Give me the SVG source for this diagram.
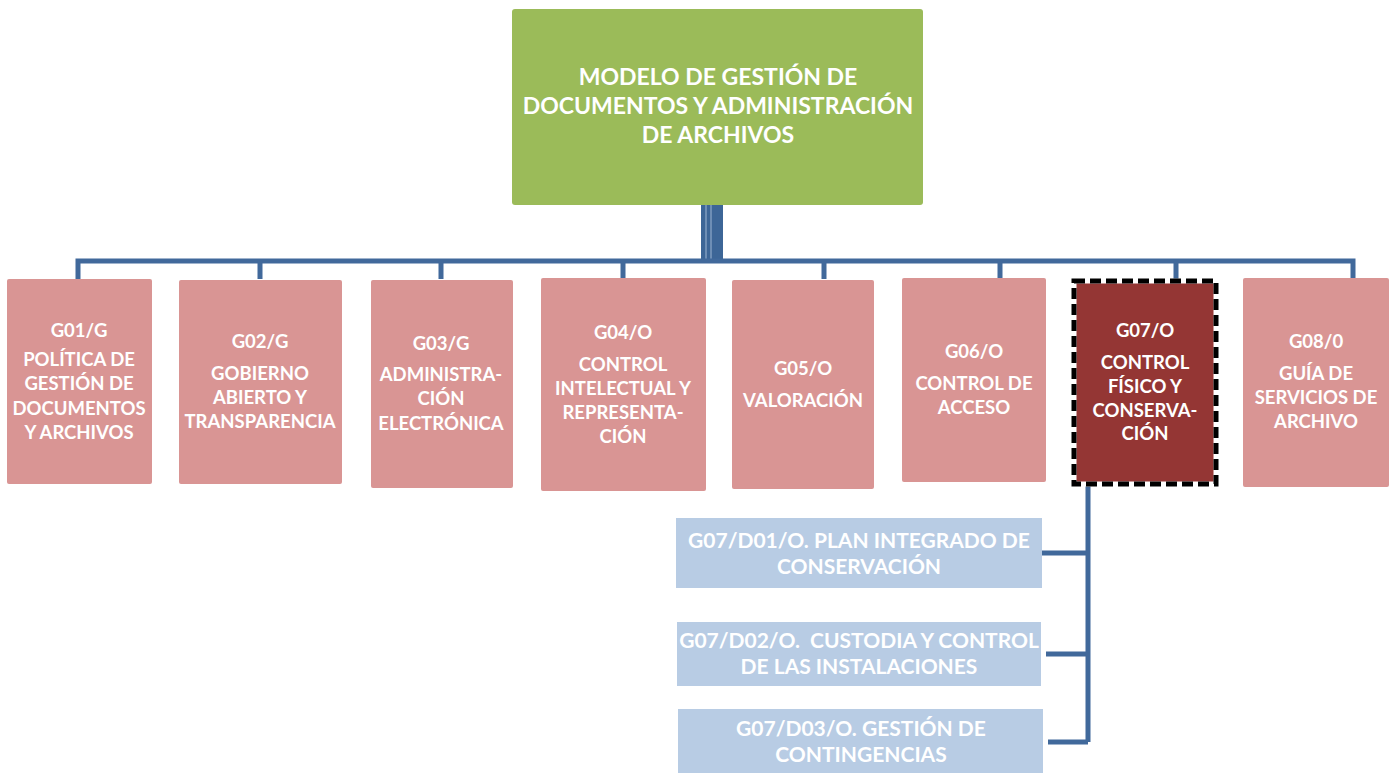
<svg xmlns="http://www.w3.org/2000/svg" width="1398" height="773" viewBox="0 0 1398 773">
<style>
.t{font-family:Lato,"Open Sans","Liberation Sans",sans-serif;font-weight:bold;fill:#fff;text-anchor:middle}
.g{font-size:18.5px}
.top{font-size:23px}
.s{font-size:21px}
.pink{fill:#D99594}
.blue{fill:#B8CCE4}
.ln{stroke:#41699B;stroke-width:5;fill:none}
</style>
<rect width="1398" height="773" fill="#fff"/>
<g id="connectors">
<rect x="701" y="205" width="22" height="56" fill="#3D6697"/>
<line x1="706" y1="205" x2="706" y2="260" stroke="#9FB6D3" stroke-width="1"/>
<line x1="711" y1="205" x2="711" y2="260" stroke="#9FB6D3" stroke-width="1"/>
<path class="ln" d="M78 279 V261 H1353 V279"/>
<path class="ln" d="M260 261 V279 M441 261 V279 M623 261 V279 M824 261 V279 M1000 261 V279 M1176 261 V279"/>
<path class="ln" d="M1088 484 V742 M1042 553 H1088 M1046 654 H1088 M1048 742 H1088"/>
</g>
<g id="top">
<rect x="512" y="9" width="411" height="196" rx="3" fill="#9BBB59"/>
<text class="t top" x="718" y="85">MODELO DE GESTIÓN DE</text>
<text class="t top" x="718" y="114">DOCUMENTOS Y ADMINISTRACIÓN</text>
<text class="t top" x="718" y="143">DE ARCHIVOS</text>
</g>
<g id="g01">
<rect class="pink" x="7" y="279" width="145" height="205" rx="2"/>
<text class="t g" x="79" y="337">G01/G</text>
<text class="t g" x="79" y="366">POLÍTICA DE</text>
<text class="t g" x="79" y="390">GESTIÓN DE</text>
<text class="t g" x="79" y="415">DOCUMENTOS</text>
<text class="t g" x="79" y="439">Y ARCHIVOS</text>
</g>
<g id="g02">
<rect class="pink" x="179" y="280" width="163" height="204" rx="2"/>
<text class="t g" x="260" y="348">G02/G</text>
<text class="t g" x="260" y="380">GOBIERNO</text>
<text class="t g" x="260" y="404">ABIERTO Y</text>
<text class="t g" x="260" y="428">TRANSPARENCIA</text>
</g>
<g id="g03">
<rect class="pink" x="371" y="280" width="142" height="208" rx="2"/>
<text class="t g" x="441" y="350">G03/G</text>
<text class="t g" x="441" y="381">ADMINISTRA-</text>
<text class="t g" x="441" y="405">CIÓN</text>
<text class="t g" x="441" y="430">ELECTRÓNICA</text>
</g>
<g id="g04">
<rect class="pink" x="541" y="278" width="165" height="213" rx="2"/>
<text class="t g" x="623" y="339">G04/O</text>
<text class="t g" x="623" y="371">CONTROL</text>
<text class="t g" x="623" y="395">INTELECTUAL Y</text>
<text class="t g" x="623" y="419">REPRESENTA-</text>
<text class="t g" x="623" y="443">CIÓN</text>
</g>
<g id="g05">
<rect class="pink" x="732" y="280" width="142" height="209" rx="2"/>
<text class="t g" x="803" y="375">G05/O</text>
<text class="t g" x="803" y="407">VALORACIÓN</text>
</g>
<g id="g06">
<rect class="pink" x="902" y="278" width="144" height="204" rx="2"/>
<text class="t g" x="974" y="358">G06/O</text>
<text class="t g" x="974" y="390">CONTROL DE</text>
<text class="t g" x="974" y="414">ACCESO</text>
</g>
<g id="g07">
<rect x="1074" y="281" width="142" height="203" fill="#943634" stroke="#fff" stroke-width="5"/>
<rect x="1074" y="281" width="142" height="203" fill="none" stroke="#000" stroke-width="5" stroke-dasharray="11 5"/>
<text class="t g" x="1145" y="337">G07/O</text>
<text class="t g" x="1145" y="369">CONTROL</text>
<text class="t g" x="1145" y="393">FÍSICO Y</text>
<text class="t g" x="1145" y="417">CONSERVA-</text>
<text class="t g" x="1145" y="440">CIÓN</text>
</g>
<g id="g08">
<rect class="pink" x="1243" y="278" width="146" height="209" rx="2"/>
<text class="t g" x="1316" y="348">G08/0</text>
<text class="t g" x="1316" y="380">GUÍA DE</text>
<text class="t g" x="1316" y="404">SERVICIOS DE</text>
<text class="t g" x="1316" y="428">ARCHIVO</text>
</g>
<g id="d01">
<rect class="blue" x="676" y="518" width="366" height="70"/>
<text class="t s" x="859" y="548">G07/D01/O. PLAN INTEGRADO DE</text>
<text class="t s" x="859" y="574">CONSERVACIÓN</text>
</g>
<g id="d02">
<rect class="blue" x="677" y="622" width="364" height="64"/>
<text class="t s" x="859" y="648" xml:space="preserve">G07/D02/O.  CUSTODIA Y CONTROL</text>
<text class="t s" x="859" y="674">DE LAS INSTALACIONES</text>
</g>
<g id="d03">
<rect class="blue" x="678" y="709" width="365" height="64"/>
<text class="t s" x="861" y="736">G07/D03/O. GESTIÓN DE</text>
<text class="t s" x="861" y="762">CONTINGENCIAS</text>
</g>
</svg>
